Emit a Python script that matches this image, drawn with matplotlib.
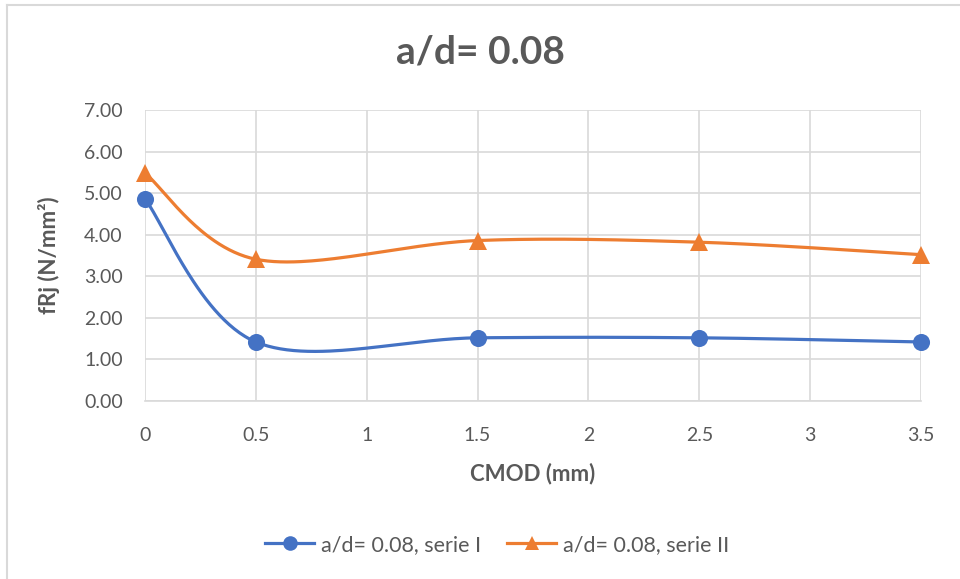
import numpy as np
import matplotlib
matplotlib.use("Agg")
import matplotlib.pyplot as plt
from matplotlib.lines import Line2D

# CMOD positions (mm) and residual flexural strengths fRj (N/mm²)
cmod = [0.0, 0.5, 1.5, 2.5, 3.5]
serie_1 = [4.86, 1.42, 1.52, 1.52, 1.42]
serie_2 = [5.48, 3.41, 3.86, 3.82, 3.52]
series_labels = ["a/d= 0.08, serie I", "a/d= 0.08, serie II"]
x_ticks = [0, 0.5, 1, 1.5, 2, 2.5, 3, 3.5]
x_tick_labels = ["0", "0.5", "1", "1.5", "2", "2.5", "3", "3.5"]
y_ticks = [0, 1, 2, 3, 4, 5, 6, 7]
title = "a/d= 0.08"

BLUE = "#4472C4"
ORANGE = "#ED7D31"
GREY_TXT = "#595959"
GRID = "#D9D9D9"

plt.rcParams["font.family"] = ["Lato", "DejaVu Sans"]


def smooth(xs, ys, n=60):
    """Catmull-Rom style cubic Bezier smoothing through every point."""
    p = np.column_stack([xs, ys]).astype(float)
    ext = np.vstack([p[0], p, p[-1]])
    out = []
    t = np.linspace(0, 1, n)[:, None]
    for i in range(len(p) - 1):
        p0, p1, p2, p3 = ext[i], ext[i + 1], ext[i + 2], ext[i + 3]
        c1 = p1 + (p2 - p0) / 6.0
        c2 = p2 - (p3 - p1) / 6.0
        seg = ((1 - t) ** 3) * p1 + 3 * ((1 - t) ** 2) * t * c1 \
            + 3 * (1 - t) * t ** 2 * c2 + t ** 3 * p2
        out.append(seg if i == 0 else seg[1:])
    out = np.vstack(out)
    return out[:, 0], out[:, 1]


fig = plt.figure(figsize=(9.6, 5.79), dpi=100)
ax = fig.add_axes([145 / 960, 1 - 401 / 579, (921 - 145) / 960, (401 - 110) / 579])

for ys, col, mk, ms in [(serie_1, BLUE, "o", 12.3), (serie_2, ORANGE, "^", 12.3)]:
    sx, sy = smooth(cmod, ys)
    ax.plot(sx, sy, color=col, lw=2.3, solid_capstyle="round", zorder=3, clip_on=False)
    ax.plot(cmod, ys, linestyle="none", marker=mk, ms=ms, color=col,
            markeredgewidth=0, zorder=4, clip_on=False)

ax.set_xlim(0, 3.5)
ax.set_ylim(0, 7)
ax.set_xticks(x_ticks)
ax.set_xticklabels(x_tick_labels)
ax.set_yticks(y_ticks)
ax.set_yticklabels([f"{v:.2f}" for v in y_ticks])
ax.grid(True, color=GRID, lw=1.2)
ax.set_axisbelow(True)
for s in ["top", "right", "left"]:
    ax.spines[s].set_visible(False)
ax.spines["bottom"].set_color(GRID)
ax.spines["bottom"].set_linewidth(1.2)
ax.tick_params(axis="both", length=0, labelsize=14, labelcolor=GREY_TXT)
ax.tick_params(axis="y", pad=16)
ax.tick_params(axis="x", pad=19)

ax.set_xlabel("CMOD (mm)", fontsize=16, fontweight="bold", color=GREY_TXT, labelpad=13)
ax.set_ylabel("fRj (N/mm²)", fontsize=16, fontweight="bold",
              color=GREY_TXT, labelpad=17)

fig.text(0.5, 1 - 52 / 579, title, ha="center", va="center", fontsize=28,
         fontweight="bold", color=GREY_TXT)

handles = [
    Line2D([], [], color=BLUE, lw=2.3, marker="o", ms=10.5, markeredgewidth=0),
    Line2D([], [], color=ORANGE, lw=2.3, marker="^", ms=10.5, markeredgewidth=0),
]
fig.legend(handles, series_labels, loc="center", bbox_to_anchor=(497 / 960, 1 - 545 / 579),
           ncol=2, frameon=False, fontsize=15.5, labelcolor=GREY_TXT,
           handlelength=2.3, columnspacing=1.2, handletextpad=0.3)

# chart-area border
fig.add_artist(Line2D([6.5 / 960, 6.5 / 960], [0, 1 - 5 / 579], transform=fig.transFigure,
                      color=GRID, lw=1.5))
fig.add_artist(Line2D([6.5 / 960, 1], [1 - 5 / 579, 1 - 5 / 579], transform=fig.transFigure,
                      color=GRID, lw=1.5))

fig.savefig("out.png", dpi=100, facecolor="white")
